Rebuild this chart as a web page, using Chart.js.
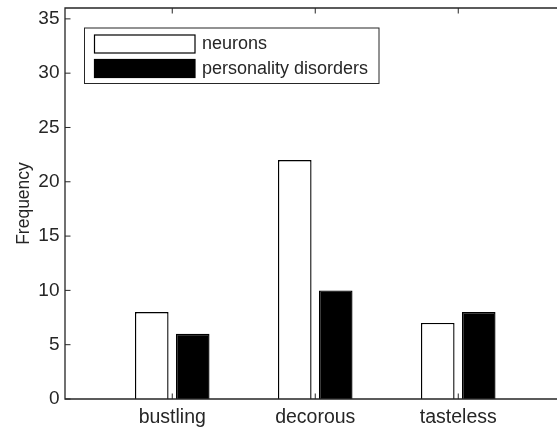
<!DOCTYPE html>
<html>
<head>
<meta charset="utf-8">
<script src="https://cdn.jsdelivr.net/npm/chart.js@4/dist/chart.umd.min.js"></script>
<style>
  html, body { margin: 0; padding: 0; background: #fff; overflow: hidden; }
  #wrap { position: relative; width: 580px; height: 429px; }
</style>
</head>
<body>
<div id="wrap"><canvas id="c"></canvas></div>
<script>
// Frequencies per word, for each source corpus
const categories = ['bustling', 'decorous', 'tasteless'];
const neurons = [8, 22, 7];
const disorders = [6, 10, 8];
const seriesNames = ['neurons', 'personality disorders'];
const yTicks = [0, 5, 10, 15, 20, 25, 30, 35];

const ink = '#262626';
const FONT = '"Liberation Sans", Arial, Helvetica, sans-serif';

// bars sit on a numeric axis at positions 1..n
function toPoints(vals) {
  return vals.map((v, i) => ({ x: i + 1, y: v }));
}

// box outline, inward tick marks and the boxed legend
const frame = {
  id: 'frame',
  afterDatasetsDraw(chart) {
    const { ctx, chartArea: a, scales: { x, y } } = chart;
    ctx.save();
    ctx.strokeStyle = ink;
    ctx.lineWidth = 1.3;
    ctx.beginPath();
    ctx.moveTo(a.right, a.top);
    ctx.lineTo(a.left, a.top);
    ctx.lineTo(a.left, a.bottom);
    ctx.lineTo(a.right, a.bottom);
    ctx.stroke();

    const tl = 5.5;
    ctx.lineWidth = 1;
    ctx.beginPath();
    y.ticks.forEach(t => {
      const py = y.getPixelForValue(t.value);
      ctx.moveTo(a.left, py);
      ctx.lineTo(a.left + tl, py);
    });
    x.ticks.forEach(t => {
      const px = x.getPixelForValue(t.value);
      ctx.moveTo(px, a.bottom);
      ctx.lineTo(px, a.bottom - tl);
      ctx.moveTo(px, a.top);
      ctx.lineTo(px, a.top + tl);
    });
    ctx.stroke();

    // legend
    const lx = a.left + 19.5, ly = a.top + 20, lw = 294.5, lh = 55.5;
    ctx.fillStyle = '#fff';
    ctx.fillRect(lx, ly, lw, lh);
    ctx.lineWidth = 1;
    ctx.strokeStyle = ink;
    ctx.strokeRect(lx, ly, lw, lh);
    ctx.font = '18px ' + FONT;
    ctx.textBaseline = 'middle';
    ctx.textAlign = 'left';
    chart.data.datasets.forEach((ds, i) => {
      const sy = ly + 7 + i * 24.5;
      ctx.fillStyle = ds.backgroundColor;
      ctx.fillRect(lx + 10, sy, 100.5, 18);
      ctx.strokeStyle = '#000';
      ctx.lineWidth = 1.2;
      ctx.strokeRect(lx + 10, sy, 100.5, 18);
      ctx.fillStyle = ink;
      ctx.fillText(ds.label, lx + 117.5, sy + 9.5);
    });
    ctx.restore();
  }
};

new Chart(document.getElementById('c'), {
  type: 'bar',
  data: {
    datasets: [
      {
        label: seriesNames[0],
        data: toPoints(neurons),
        backgroundColor: '#ffffff',
        borderColor: '#000000',
        borderWidth: 1.4,
        categoryPercentage: 0.573,
        barPercentage: 0.82
      },
      {
        label: seriesNames[1],
        data: toPoints(disorders),
        backgroundColor: '#000000',
        borderColor: '#000000',
        borderWidth: 1.4,
        categoryPercentage: 0.573,
        barPercentage: 0.82
      }
    ]
  },
  options: {
    responsive: true,
    maintainAspectRatio: false,
    animation: false,
    devicePixelRatio: 1,
    layout: { padding: { top: 8, right: 14.5, bottom: 0, left: 0 } },
    plugins: {
      legend: { display: false },
      tooltip: { enabled: false }
    },
    scales: {
      x: {
        type: 'linear',
        offset: false,
        min: 0.25,
        max: 3.75,
        afterBuildTicks: s => { s.ticks = categories.map((c, i) => ({ value: i + 1 })); },
        afterFit: s => { s.height = 30; s.paddingLeft = 0; s.paddingRight = 0; },
        grid: { display: false, drawTicks: false },
        border: { display: false },
        ticks: {
          autoSkip: false,
          maxRotation: 0,
          padding: 7,
          color: ink,
          font: { family: FONT, size: 19.5 },
          callback: v => categories[v - 1]
        }
      },
      y: {
        type: 'linear',
        min: 0,
        max: 36,
        afterBuildTicks: s => { s.ticks = yTicks.map(v => ({ value: v })); },
        afterFit: s => { s.width = 65; s.paddingTop = 0; s.paddingBottom = 0; },
        grid: { display: false, drawTicks: false },
        border: { display: false },
        ticks: {
          padding: 5.5,
          color: ink,
          font: { family: FONT, size: 19 }
        },
        title: {
          display: true,
          text: 'Frequency',
          color: ink,
          font: { family: FONT, size: 17.5 },
          padding: { top: 14, bottom: 0 }
        }
      }
    }
  },
  plugins: [frame]
});
</script>
</body>
</html>
